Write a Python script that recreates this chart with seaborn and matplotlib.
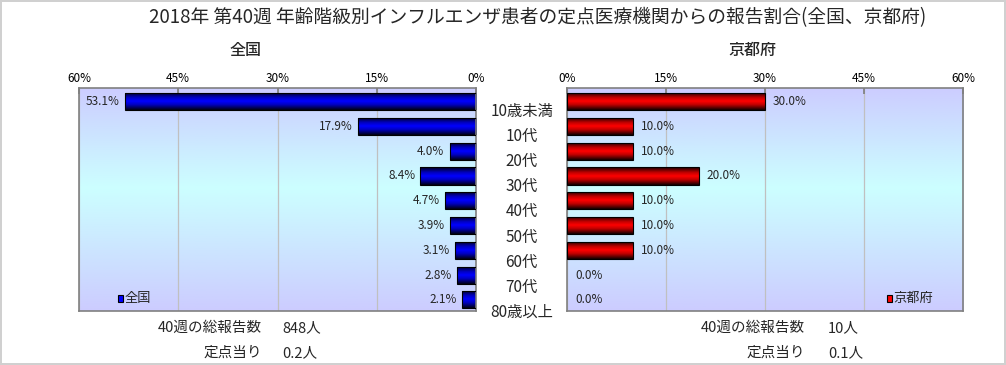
import numpy as np
import pandas as pd
import matplotlib
matplotlib.use("Agg")
import matplotlib.pyplot as plt
from matplotlib.colors import LinearSegmentedColormap
from matplotlib.ticker import FixedLocator
from matplotlib.patches import Rectangle
import seaborn as sns

categories = ["10歳未満", "10代", "20代", "30代", "40代", "50代", "60代", "70代", "80歳以上"]
national = [53.1, 17.9, 4.0, 8.4, 4.7, 3.9, 3.1, 2.8, 2.1]
kyoto = [30.0, 10.0, 10.0, 20.0, 10.0, 10.0, 10.0, 0.0, 0.0]
xticks = [0, 15, 30, 45, 60]
title = "2018年 第40週 年齢階級別インフルエンザ患者の定点医療機関からの報告割合(全国、京都府)"
left_title = "全国"
right_title = "京都府"
left_total = ("40週の総報告数", "848人")
left_per = ("定点当り", "0.2人")
right_total = ("40週の総報告数", "10人")
right_per = ("定点当り", "0.1人")

sns.set_theme(style="white")
FONT = ["Noto Sans CJK JP", "DejaVu Sans"]
plt.rcParams["font.family"] = FONT

W, H = 1006, 365
fig = plt.figure(figsize=(W / 100, H / 100), dpi=100)
fig.patch.set_facecolor("white")
fig.patch.set_edgecolor("#d0d0d0")
fig.patch.set_linewidth(1.5)

def fx(px):
    return px / W

def fy(py):
    return 1 - py / H

axL = fig.add_axes([fx(79), fy(311), fx(476 - 79), fy(88) - fy(311)])
axR = fig.add_axes([fx(567), fy(311), fx(963 - 567), fy(88) - fy(311)])
axM = fig.add_axes([fx(476), fy(325.2), fx(567 - 476), fy(98.4) - fy(325.2)])
axM.axis("off")

df = pd.DataFrame({"cat": categories, "national": national, "kyoto": kyoto})

bg_cmap = LinearSegmentedColormap.from_list("bg", [(0, "#ccccff"), (0.45, "#ccffff"), (1, "#ccccff")])
blue_cmap = LinearSegmentedColormap.from_list("bl", [(0, "#000010"), (0.3, "#0000c0"), (0.5, "#0000ff"), (0.7, "#0000c0"), (1, "#000010")])
red_cmap = LinearSegmentedColormap.from_list("rd", [(0, "#100000"), (0.3, "#c00000"), (0.5, "#ff0000"), (0.7, "#c00000"), (1, "#100000")])

grad = np.linspace(0, 1, 256).reshape(-1, 1)

for ax, col, cmap, inv in [(axL, "national", blue_cmap, True), (axR, "kyoto", red_cmap, False)]:
    sns.barplot(data=df, y="cat", x=col, orient="h", ax=ax, color="#0000ff",
                width=0.69, edgecolor="black", linewidth=0.8, zorder=3)
    ax.imshow(grad, aspect="auto", cmap=bg_cmap, extent=[0, 1, 0, 1],
              transform=ax.transAxes, zorder=0)
    for p in ax.patches:
        x0, y0 = p.get_x(), p.get_y()
        w, h = p.get_width(), p.get_height()
        if w <= 0:
            p.set_visible(False)
            continue
        p.set_facecolor("none")
        im = ax.imshow(grad, aspect="auto", cmap=cmap,
                       extent=[x0, x0 + w, y0 + h, y0], zorder=2.5)
        im.set_clip_path(p)
    ax.set_xlim(60, 0) if inv else ax.set_xlim(0, 60)
    ax.set_ylim(len(categories) - 0.55, -0.55)
    ax.xaxis.tick_top()
    ax.xaxis.set_major_locator(FixedLocator(xticks))
    ax.set_xticklabels([f"{t}%" for t in xticks], fontsize=8.5, color="black")
    ax.tick_params(axis="x", which="both", direction="in", length=4, pad=2, color="#808080", top=True)
    ax.set_yticks([])
    ax.set_xlabel("")
    ax.set_ylabel("")
    ax.grid(axis="x", color="#c0c0c0", linewidth=0.9, zorder=1)
    ax.set_axisbelow(True)
    for s in ax.spines.values():
        s.set_color("#808080")
        s.set_linewidth(1.2)
    for i, v in enumerate(df[col]):
        if inv:
            ax.text(v + 0.8, i, f"{v:.1f}%", ha="right", va="center", fontsize=8.5, zorder=5)
        else:
            ax.text(v + 1.2, i, f"{v:.1f}%", ha="left", va="center", fontsize=8.5, zorder=5)

axM.set_ylim(len(categories) - 0.5, -0.5)
axM.set_xlim(0, 1)
for i, c in enumerate(categories):
    axM.text(0.5, i, c, ha="center", va="center", fontsize=11)

# legend markers (small squares with black edge)
def legend(ax, xfrac, color, label):
    bw, bh = 0.014, 0.03
    ax.add_patch(Rectangle((xfrac, 0.055 - bh / 2), bw, bh, transform=ax.transAxes,
                           facecolor=color, edgecolor="black", linewidth=0.8, zorder=6))
    ax.text(xfrac + bw + 0.004, 0.055, label, transform=ax.transAxes, ha="left",
            va="center", fontsize=9.5, zorder=6)

legend(axL, 0.097, "#0000ff", left_title)
legend(axR, 0.807, "#ff0000", right_title)

fig.text(fx(538), fy(18), title, ha="center", va="center", fontsize=13.5)
fig.text(fx(245), fy(50), left_title, ha="center", va="center", fontsize=11.5, fontweight="medium")
fig.text(fx(752), fy(50), right_title, ha="center", va="center", fontsize=11.5, fontweight="medium")

fig.text(fx(262), fy(328), left_total[0], ha="right", va="center", fontsize=10.5)
fig.text(fx(282), fy(328), left_total[1], ha="left", va="center", fontsize=10.5)
fig.text(fx(262), fy(353), left_per[0], ha="right", va="center", fontsize=10.5)
fig.text(fx(282), fy(353), left_per[1], ha="left", va="center", fontsize=10.5)
fig.text(fx(805), fy(328), right_total[0], ha="right", va="center", fontsize=10.5)
fig.text(fx(828), fy(328), right_total[1], ha="left", va="center", fontsize=10.5)
fig.text(fx(805), fy(353), right_per[0], ha="right", va="center", fontsize=10.5)
fig.text(fx(828), fy(353), right_per[1], ha="left", va="center", fontsize=10.5)

fig.savefig("out.png", dpi=100, facecolor=fig.get_facecolor(), edgecolor=fig.get_edgecolor())
